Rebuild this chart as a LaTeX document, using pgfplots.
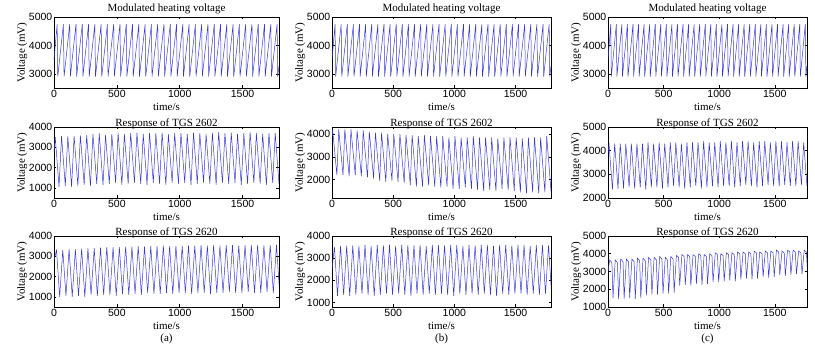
\documentclass[border=0pt]{standalone}
\usepackage{fontspec}
\setmainfont{Liberation Serif}
\setsansfont{Liberation Sans}
\usepackage{pgfplots}
\usepackage{pgfplotstable}
\pgfplotsset{compat=1.18}
\definecolor{sigblue}{rgb}{0.22,0.22,0.85}
\pgfplotsset{
 panel/.style={
  scale only axis, width=#1, height=71pt,
  xmin=0, xmax=1790, xtick={0,500,1000,1500},
  scaled ticks=false,
  tick align=inside, major tick length=2.5pt,
  axis line style={line width=0.7pt},
  every tick/.style={black, line width=0.5pt},
  tick label style={font=\fontsize{10.5}{11}\selectfont\sffamily},
  xticklabel style={inner sep=2pt},
  yticklabel style={inner sep=1.5pt},
  /pgf/number format/assume math mode=true,
  /pgf/number format/set thousands separator={},
  title style={font=\fontsize{11}{12}\selectfont, inner sep=1pt, yshift=-9.5pt},
  label style={font=\fontsize{11}{12}\selectfont},
  xlabel={time/s}, ylabel={Voltage (mV)},
  xlabel style={inner sep=1pt, yshift=-2pt},
  ylabel style={inner sep=0pt},
 },
 row1/.style={title style={yshift=5.5pt}},
 sig/.style={sigblue, line width=0.5pt, no marks},
}
\pgfplotstableread[row sep=\\]{
t v\\
0 3500\\ 25 4750\\ 30 2900\\ 75 4750\\ 80 2900\\ 125 4750\\ 130 2900\\ 175 4750\\ 180 2900\\
225 4750\\ 230 2900\\ 275 4750\\ 280 2900\\ 325 4750\\ 330 2900\\ 375 4750\\ 380 2900\\
425 4750\\ 430 2900\\ 475 4750\\ 480 2900\\ 525 4750\\ 530 2900\\ 575 4750\\ 580 2900\\
625 4750\\ 630 2900\\ 675 4750\\ 680 2900\\ 725 4750\\ 730 2900\\ 775 4750\\ 780 2900\\
825 4750\\ 830 2900\\ 875 4750\\ 880 2900\\ 925 4750\\ 930 2900\\ 975 4750\\ 980 2900\\
1025 4750\\ 1030 2900\\ 1075 4750\\ 1080 2900\\ 1125 4750\\ 1130 2900\\ 1175 4750\\ 1180 2900\\
1225 4750\\ 1230 2900\\ 1275 4750\\ 1280 2900\\ 1325 4750\\ 1330 2900\\ 1375 4750\\ 1380 2900\\
1425 4750\\ 1430 2900\\ 1475 4750\\ 1480 2900\\ 1525 4750\\ 1530 2900\\ 1575 4750\\ 1580 2900\\
1625 4750\\ 1630 2900\\ 1675 4750\\ 1680 2900\\ 1725 4750\\ 1730 2900\\ 1775 4750\\ 1780 2900\\
1790 3270\\
}\heat
\pgfplotstableread[row sep=\\]{
t v\\
0 2800\\
10 3500\\ 40 1050\\ 60 3550\\ 90 1100\\ 110 3550\\ 140 1050\\ 160 3560\\ 190 1100\\
210 3580\\ 240 1150\\ 260 3600\\ 290 1100\\ 310 3650\\ 340 1200\\ 360 3680\\ 390 1150\\
410 3600\\ 440 1200\\ 460 3650\\ 490 1250\\ 510 3700\\ 540 1150\\ 560 3650\\ 590 1200\\
610 3700\\ 640 1250\\ 660 3720\\ 690 1200\\ 710 3650\\ 740 1150\\ 760 3700\\ 790 1250\\
810 3700\\ 840 1200\\ 860 3720\\ 890 1150\\ 910 3650\\ 940 1250\\ 960 3700\\ 990 1200\\
1010 3700\\ 1040 1250\\ 1060 3650\\ 1090 1150\\ 1110 3720\\ 1140 1200\\ 1160 3700\\ 1190 1250\\
1210 3650\\ 1240 1200\\ 1260 3700\\ 1290 1150\\ 1310 3750\\ 1340 1250\\ 1360 3700\\ 1390 1200\\
1410 3720\\ 1440 1250\\ 1460 3650\\ 1490 1150\\ 1510 3700\\ 1540 1200\\ 1560 3750\\ 1590 1250\\
1610 3700\\ 1640 1200\\ 1660 3650\\ 1690 1150\\ 1710 3700\\ 1740 1250\\ 1760 3700\\ 1790 1200\\
}\atwo
\pgfplotstableread[row sep=\\]{
t v\\
0 2800\\
20 3300\\ 45 1000\\ 70 3320\\ 95 1050\\ 120 3350\\ 145 1000\\ 170 3350\\ 195 1050\\
220 3380\\ 245 1000\\ 270 3400\\ 295 1100\\ 320 3400\\ 345 1050\\ 370 3420\\ 395 1100\\
420 3450\\ 445 1100\\ 470 3450\\ 495 1050\\ 520 3450\\ 545 1150\\ 570 3480\\ 595 1100\\
620 3480\\ 645 1150\\ 670 3500\\ 695 1100\\ 720 3480\\ 745 1200\\ 770 3500\\ 795 1150\\
820 3500\\ 845 1150\\ 870 3520\\ 895 1200\\ 920 3500\\ 945 1150\\ 970 3520\\ 995 1200\\
1020 3500\\ 1045 1200\\ 1070 3530\\ 1095 1150\\ 1120 3520\\ 1145 1200\\ 1170 3550\\ 1195 1200\\
1220 3530\\ 1245 1150\\ 1270 3550\\ 1295 1200\\ 1320 3520\\ 1345 1200\\ 1370 3550\\ 1395 1250\\
1420 3550\\ 1445 1200\\ 1470 3530\\ 1495 1200\\ 1520 3550\\ 1545 1250\\ 1570 3550\\ 1595 1200\\
1620 3560\\ 1645 1200\\ 1670 3540\\ 1695 1250\\ 1720 3550\\ 1745 1200\\ 1770 3560\\ 1795 1200\\
}\athree
\pgfplotstableread[row sep=\\]{
t v\\
0 3900\\
5 4200\\ 40 2200\\ 55 4200\\ 90 2200\\ 105 4200\\ 140 2150\\ 155 4200\\ 190 2200\\
205 4150\\ 240 2150\\ 255 4150\\ 290 2100\\ 305 4100\\ 340 2050\\ 355 4050\\ 390 1950\\
405 4050\\ 440 1900\\ 455 4000\\ 490 1950\\ 505 4000\\ 540 1900\\ 555 4000\\ 590 1850\\
605 3950\\ 640 1750\\ 655 3950\\ 690 1700\\ 705 3900\\ 740 1700\\ 755 3950\\ 790 1750\\
805 3900\\ 840 1700\\ 855 3900\\ 890 1650\\ 905 3900\\ 940 1700\\ 955 3850\\ 990 1600\\
1005 3900\\ 1040 1600\\ 1055 3850\\ 1090 1650\\ 1105 3850\\ 1140 1600\\ 1155 3900\\ 1190 1550\\
1205 3850\\ 1240 1500\\ 1255 3850\\ 1290 1550\\ 1305 3850\\ 1340 1500\\ 1355 3800\\ 1390 1600\\
1405 3850\\ 1440 1550\\ 1455 3850\\ 1490 1500\\ 1505 3850\\ 1540 1450\\ 1555 3800\\ 1590 1400\\
1605 3850\\ 1640 1450\\ 1655 3850\\ 1690 1400\\ 1705 3850\\ 1740 1450\\ 1755 3900\\ 1790 1500\\
}\btwo
\pgfplotstableread[row sep=\\]{
t v\\
0 2500\\
20 3500\\ 45 1300\\ 70 3550\\ 95 1350\\ 120 3550\\ 145 1300\\ 170 3580\\ 195 1350\\
220 3550\\ 245 1400\\ 270 3600\\ 295 1350\\ 320 3550\\ 345 1300\\ 370 3600\\ 395 1350\\
420 3580\\ 445 1400\\ 470 3600\\ 495 1350\\ 520 3550\\ 545 1400\\ 570 3600\\ 595 1350\\
620 3600\\ 645 1300\\ 670 3580\\ 695 1400\\ 720 3600\\ 745 1350\\ 770 3550\\ 795 1400\\
820 3600\\ 845 1350\\ 870 3600\\ 895 1400\\ 920 3580\\ 945 1350\\ 970 3600\\ 995 1300\\
1020 3600\\ 1045 1400\\ 1070 3550\\ 1095 1350\\ 1120 3600\\ 1145 1400\\ 1170 3580\\ 1195 1350\\
1220 3600\\ 1245 1400\\ 1270 3600\\ 1295 1350\\ 1320 3550\\ 1345 1300\\ 1370 3600\\ 1395 1400\\
1420 3600\\ 1445 1350\\ 1470 3580\\ 1495 1400\\ 1520 3600\\ 1545 1400\\ 1570 3600\\ 1595 1350\\
1620 3550\\ 1645 1400\\ 1670 3600\\ 1695 1350\\ 1720 3600\\ 1745 1400\\ 1770 3580\\ 1795 1350\\
}\bthree
\pgfplotstableread[row sep=\\]{
t v\\
0 3900\\
10 4250\\ 40 2350\\ 60 4300\\ 90 2400\\ 110 4300\\ 140 2400\\ 160 4300\\ 190 2450\\
210 4300\\ 240 2400\\ 260 4300\\ 290 2450\\ 310 4300\\ 340 2350\\ 360 4350\\ 390 2450\\
410 4300\\ 440 2450\\ 460 4350\\ 490 2400\\ 510 4300\\ 540 2450\\ 560 4350\\ 590 2500\\
610 4350\\ 640 2450\\ 660 4300\\ 690 2400\\ 710 4350\\ 740 2450\\ 760 4350\\ 790 2500\\
810 4350\\ 840 2400\\ 860 4400\\ 890 2450\\ 910 4350\\ 940 2500\\ 960 4350\\ 990 2450\\
1010 4400\\ 1040 2500\\ 1060 4350\\ 1090 2500\\ 1110 4400\\ 1140 2450\\ 1160 4350\\ 1190 2500\\
1210 4400\\ 1240 2550\\ 1260 4400\\ 1290 2500\\ 1310 4350\\ 1340 2450\\ 1360 4400\\ 1390 2500\\
1410 4400\\ 1440 2550\\ 1460 4350\\ 1490 2500\\ 1510 4400\\ 1540 2500\\ 1560 4400\\ 1590 2550\\
1610 4350\\ 1640 2500\\ 1660 4400\\ 1690 2500\\ 1710 4400\\ 1740 2550\\ 1760 4350\\ 1790 2500\\
}\ctwo
\pgfplotstableread[row sep=\\]{
t v\\
0 3000\\
15 3650\\ 35 3500\\ 45 1500\\ 65 3650\\ 85 3500\\ 95 1450\\
115 3700\\ 135 3550\\ 145 1450\\ 165 3700\\ 185 3550\\ 195 1500\\
215 3700\\ 235 3550\\ 245 1450\\ 265 3750\\ 285 3600\\ 295 1500\\
315 3750\\ 335 3600\\ 345 1650\\ 365 3800\\ 385 3650\\ 395 1700\\
415 3800\\ 435 3650\\ 445 1700\\ 465 3850\\ 485 3700\\ 495 1750\\
515 3800\\ 535 3650\\ 545 1750\\ 565 3850\\ 585 3700\\ 595 1800\\
615 3900\\ 635 3800\\ 645 2200\\ 665 3950\\ 685 3850\\ 695 2250\\
715 3950\\ 735 3850\\ 745 2200\\ 765 3950\\ 785 3850\\ 795 2300\\
815 4000\\ 835 3900\\ 845 2250\\ 865 3950\\ 885 3850\\ 895 2300\\
915 4000\\ 935 3900\\ 945 2400\\ 965 4050\\ 985 3950\\ 995 2400\\
1015 4000\\ 1035 3900\\ 1045 2450\\ 1065 4050\\ 1085 3950\\ 1095 2500\\
1115 4050\\ 1135 3950\\ 1145 2450\\ 1165 4100\\ 1185 4000\\ 1195 2550\\
1215 4100\\ 1235 4000\\ 1245 2600\\ 1265 4100\\ 1285 4000\\ 1295 2550\\
1315 4150\\ 1335 4050\\ 1345 2600\\ 1365 4100\\ 1385 4000\\ 1395 2700\\
1415 4150\\ 1435 4050\\ 1445 2650\\ 1465 4150\\ 1485 4050\\ 1495 2700\\
1515 4200\\ 1535 4100\\ 1545 2800\\ 1565 4150\\ 1585 4050\\ 1595 2750\\
1615 4200\\ 1635 4100\\ 1645 2800\\ 1665 4200\\ 1685 4100\\ 1695 2850\\
1715 4150\\ 1735 4050\\ 1745 2850\\ 1765 4200\\ 1785 4100\\ 1795 2900\\
}\cthree
\begin{document}
\begin{tikzpicture}
\useasboundingbox (0,0) rectangle (815pt,347pt);
% ---- row 1
\begin{axis}[panel=225pt, row1, at={(54pt,259pt)}, anchor=south west,
  ymin=2500, ymax=5000, ytick={3000,4000,5000}, title={Modulated heating voltage}]
\addplot[sig] table[x=t,y=v] {\heat};
\end{axis}
\begin{axis}[panel=219pt, row1, at={(332pt,259pt)}, anchor=south west,
  ymin=2500, ymax=5000, ytick={3000,4000,5000}, title={Modulated heating voltage}]
\addplot[sig] table[x=t,y=v] {\heat};
\end{axis}
\begin{axis}[panel=199pt, row1, at={(608pt,259pt)}, anchor=south west,
  ymin=2500, ymax=5000, ytick={3000,4000,5000}, title={Modulated heating voltage}]
\addplot[sig] table[x=t,y=v] {\heat};
\end{axis}
% ---- row 2
\begin{axis}[panel=225pt, at={(54pt,149pt)}, anchor=south west,
  ymin=500, ymax=4000, ytick={1000,2000,3000,4000}, title={Response of TGS 2602}]
\addplot[sig] table[x=t,y=v] {\atwo};
\end{axis}
\begin{axis}[panel=219pt, at={(332pt,149pt)}, anchor=south west,
  ymin=1200, ymax=4300, ytick={2000,3000,4000}, title={Response of TGS 2602}]
\addplot[sig] table[x=t,y=v] {\btwo};
\end{axis}
\begin{axis}[panel=199pt, at={(608pt,149pt)}, anchor=south west,
  ymin=2000, ymax=5000, ytick={2000,3000,4000,5000}, title={Response of TGS 2602}]
\addplot[sig] table[x=t,y=v] {\ctwo};
\end{axis}
% ---- row 3
\begin{axis}[panel=225pt, at={(54pt,40pt)}, anchor=south west,
  ymin=500, ymax=4000, ytick={1000,2000,3000,4000}, title={Response of TGS 2620},
  xlabel={time/s\\(a)}, xlabel style={align=center}]
\addplot[sig] table[x=t,y=v] {\athree};
\end{axis}
\begin{axis}[panel=219pt, at={(332pt,40pt)}, anchor=south west,
  ymin=800, ymax=4000, ytick={1000,2000,3000,4000}, title={Response of TGS 2620},
  xlabel={time/s\\(b)}, xlabel style={align=center}]
\addplot[sig] table[x=t,y=v] {\bthree};
\end{axis}
\begin{axis}[panel=199pt, at={(608pt,40pt)}, anchor=south west,
  ymin=1000, ymax=5000, ytick={1000,2000,3000,4000,5000}, title={Response of TGS 2620},
  xlabel={time/s\\(c)}, xlabel style={align=center}]
\addplot[sig] table[x=t,y=v] {\cthree};
\end{axis}
\end{tikzpicture}
\end{document}
